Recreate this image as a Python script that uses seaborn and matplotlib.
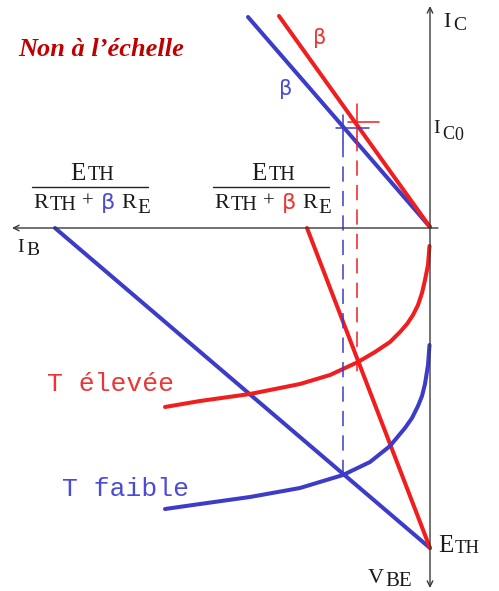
import matplotlib
matplotlib.use('Agg')
import matplotlib.pyplot as plt
import seaborn as sns
import pandas as pd

# diagram drawn in pixel units of the reference (y grows downward)
origin_x, origin_y = 430, 228
eth_y = 548

# IC = f(IB) lines for the two betas
beta_blue_x = [248, 430]
beta_blue_y = [17, 227]
beta_red_x = [279, 430]
beta_red_y = [16, 227]

# load lines in the IB / VBE quadrant
load_blue_x = [55, 430]
load_blue_y = [228, eth_y]
load_red_x = [307, 430]
load_red_y = [228, eth_y]

# input characteristics
t_high_x = [165, 200, 250, 300, 330, 358, 375, 390, 400, 407, 413, 418, 422, 425, 428, 429.5]
t_high_y = [407, 401, 394, 384, 375, 362, 352, 342, 332, 324, 315, 305, 293, 280, 265, 246]
t_low_x = [165, 200, 250, 300, 343, 370, 390, 405, 412, 418, 422, 425, 428, 429.5]
t_low_y = [509, 504, 497, 488, 475, 462, 446, 428, 418, 406, 396, 384, 365, 345]

# operating points and where the dashed lines end
q_x = [343, 357]
q_y = [128, 122]
q_low_y = [478, 372]

blue = '#3c3cc8'
red = '#f01e1e'
blue_txt = '#4b4bd8'
red_txt = '#ee3434'
ink = '#1a1a1a'
axis_col = '#3a3a3a'

sns.set_style('white')
plt.rcParams['font.family'] = ['DejaVu Sans']

fig = plt.figure(figsize=(4.99, 5.91), dpi=100)
ax = fig.add_axes([0, 0, 1, 1])

# axes with arrows
arrow = dict(arrowstyle='->', color=axis_col, lw=1.0, shrinkA=0, shrinkB=0,
             mutation_scale=10)
ax.annotate('', xy=(origin_x, 6), xytext=(origin_x, origin_y), arrowprops=arrow)
ax.annotate('', xy=(origin_x, 588), xytext=(origin_x, origin_y), arrowprops=arrow)
ax.annotate('', xy=(12, origin_y), xytext=(438, origin_y), arrowprops=arrow)

lw = 2.9
series = [
    (beta_blue_x, beta_blue_y, blue),
    (beta_red_x, beta_red_y, red),
    (load_blue_x, load_blue_y, blue),
    (load_red_x, load_red_y, red),
    (t_high_x, t_high_y, red),
    (t_low_x, t_low_y, blue),
]
for xs, ys, c in series:
    df = pd.DataFrame({'x': xs, 'y': ys})
    sns.lineplot(data=df, x='x', y='y', sort=False, estimator=None,
                 color=c, lw=lw, ax=ax, legend=False)
ax.set_xlim(0, 499)
ax.set_ylim(591, 0)
ax.axis('off')

# operating point crosses and dashed projections
for qx, qy, qlow, c, hl, hr, vt in [(q_x[0], q_y[0], q_low_y[0], blue, 7, 26, 13),
                                    (q_x[1], q_y[1], q_low_y[1], red, 9, 22, 18)]:
    ax.plot([qx - hl, qx + hr], [qy, qy], color=c, lw=1.1)
    ax.plot([qx, qx], [qy - vt, qy + 14], color=c, lw=1.1)
    ax.plot([qx, qx], [qy + 14, qlow], color=c, lw=1.1, ls=(0, (10, 6)))

serif = 'Liberation Serif'
mono = 'Liberation Mono'
renderer = fig.canvas.get_renderer()


def rich(x, y, parts, align='left'):
    """parts: (text, size, color, dy, gap_after, family)"""
    texts = []
    for s, size, color, dy, gap, fam in parts:
        t = ax.text(0, y + dy, s, fontsize=size, color=color, family=fam,
                    ha='left', va='baseline')
        w = t.get_window_extent(renderer).width
        texts.append((t, w, gap))
    total = sum(w + g for _, w, g in texts) - texts[-1][2]
    cx = x - total / 2 if align == 'center' else x
    for t, w, g in texts:
        t.set_x(cx)
        cx += w + g


def sub(main, s, size_main, size_sub, drop, color=ink, gap=1.5):
    return [(main, size_main, color, 0, gap, serif), (s, size_sub, color, drop, 0, serif)]


# title
ax.text(18, 56, 'Non à l\u2019échelle', fontsize=19, color='#c00000', family=serif,
        weight='bold', style='italic', ha='left', va='baseline')

# axis labels
rich(443, 27, sub('I', 'C', 16, 14, 3, gap=3))
rich(433, 133, sub('I', 'C', 14, 13, 6, gap=2.5) + [('0', 13, ink, 7, 0, serif)])
rich(17, 252, sub('I', 'B', 14, 14, 3, gap=3))
rich(368, 583, sub('V', 'BE', 16, 15, 3))
rich(438, 552, sub('E', 'TH', 18, 13.5, 1))

# beta labels on the lines
ax.text(313, 44, 'β', fontsize=15, color=red_txt, ha='left', va='baseline')
ax.text(279, 95, 'β', fontsize=15, color=blue_txt, ha='left', va='baseline')

# fractions
for cx, bcol in [(90, blue_txt), (271, red_txt)]:
    rich(cx + 2, 180, sub('E', 'TH', 18, 14.5, 0, gap=2), align='center')
    ax.plot([cx - 58, cx + 58], [187, 187], color='#222222', lw=1.0)
    parts = [('R', 16, ink, 0, 1, serif), ('TH', 14.5, ink, 2, 6, serif),
             ('+', 15, ink, -1, 7, serif), ('β', 16, bcol, 1, 6, 'DejaVu Sans'),
             ('R', 16, ink, 0, 1, serif), ('E', 15, ink, 5, 0, serif)]
    rich(cx + 2, 208, parts, align='center')

# curve labels
ax.text(47, 391, 'T élevée', fontsize=19, color=red_txt, family=mono,
        ha='left', va='baseline')
ax.text(62, 496, 'T faible', fontsize=19, color=blue_txt, family=mono,
        ha='left', va='baseline')

fig.savefig('out.png', dpi=100)
